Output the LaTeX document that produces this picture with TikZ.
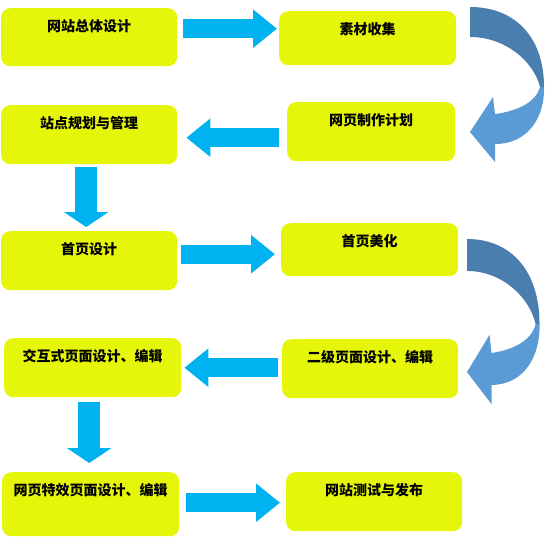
\documentclass[tikz,border=0pt]{standalone}
\usepackage{fontspec}
\newfontfamily\cjk{Noto Sans CJK SC}
\usetikzlibrary{arrows.meta}
\definecolor{boxgreen}{HTML}{E6F60A}
\definecolor{arrowcyan}{HTML}{00B2F0}
\definecolor{bendtop}{HTML}{4A7EAE}
\definecolor{bendlow}{HTML}{5B9BD5}
\tikzset{
  box/.style={fill=boxgreen, rounded corners=9pt, anchor=north west,
    inner xsep=0pt, inner ysep=0pt, text height=23pt,
    font=\cjk\bfseries\fontsize{14pt}{16pt}\selectfont},
  harrow/.style={draw=arrowcyan, line width=19pt,
    -{Triangle[length=24pt, width=37pt, fill=arrowcyan]}},
  varrow/.style={draw=arrowcyan, line width=22pt,
    -{Triangle[length=15pt, width=44pt, fill=arrowcyan]}}
}
\newcommand\bendarrow[1]{%
  \begin{scope}[#1]
    \fill[bendtop] (0,0) .. controls (45,0) and (74,30) .. (74,80) -- (70,80)
      .. controls (64,55) and (36,30) .. (0,30) -- cycle;
    \fill[bendlow] (74,80) .. controls (75,110) and (58,137) .. (25,137)
      -- (25,155) -- (0,125) -- (23,90) -- (25,107)
      .. controls (48,104) and (66,95) .. (70,80) -- cycle;
  \end{scope}}
\begin{document}
\begin{tikzpicture}[x=1pt, y=-1pt]
  \useasboundingbox (0,0) rectangle (548,542);

  \foreach \nm/\x/\y/\w/\d/\txt in {
      b1/1/8/176/35/网站总体设计, b2/279/11/177/31/素材收集,
      b3/287/102/168/36/网页制作计划, b4/1/105/176/36/站点规划与管理,
      b5/1/231/176/36/首页设计, b6/281/223/177/30/首页美化,
      b7/282/339/176/36/二级页面设计、编辑, b8/4/338/177/36/交互式页面设计、编辑,
      b9/2/472/177/41/网页特效页面设计、编辑, b10/286/472/176/36/网站测试与发布}
    \node[box, minimum width=\w pt, text depth=\d pt] (\nm) at (\x,\y) {\txt};

  \draw[harrow, shorten <=6pt, shorten >=2pt] ([yshift=8.5pt]b1.east) -- ([yshift=9.5pt]b2.west);
  \draw[harrow, shorten <=8pt, shorten >=9pt] ([yshift=-6pt]b3.west) -- ([yshift=-3pt]b4.east);
  \draw[varrow, shorten <=3pt, shorten >=4pt] ([xshift=-3pt]b4.south) -- ([xshift=-3pt]b5.north);
  \draw[harrow, shorten <=4pt, shorten >=6pt] ([yshift=6.5pt]b5.east) -- ([yshift=-4.5pt]b6.west);
  \draw[harrow, shorten <=4pt, shorten >=3pt] ([yshift=1pt]b7.west) -- (b8.east);
  \draw[varrow, shorten <=5pt, shorten >=9pt] ([xshift=-3.5pt]b8.south) -- ([xshift=-1.5pt]b9.north);
  \draw[harrow, shorten <=7pt, shorten >=6pt] ([yshift=1.5pt]b9.east) -- ([yshift=-1pt]b10.west);

  % curved arrows on the right
  \bendarrow{shift={(470,7)}}
  \bendarrow{shift={(467,239)}, xscale=0.98, yscale=1.065}
\end{tikzpicture}
\end{document}
